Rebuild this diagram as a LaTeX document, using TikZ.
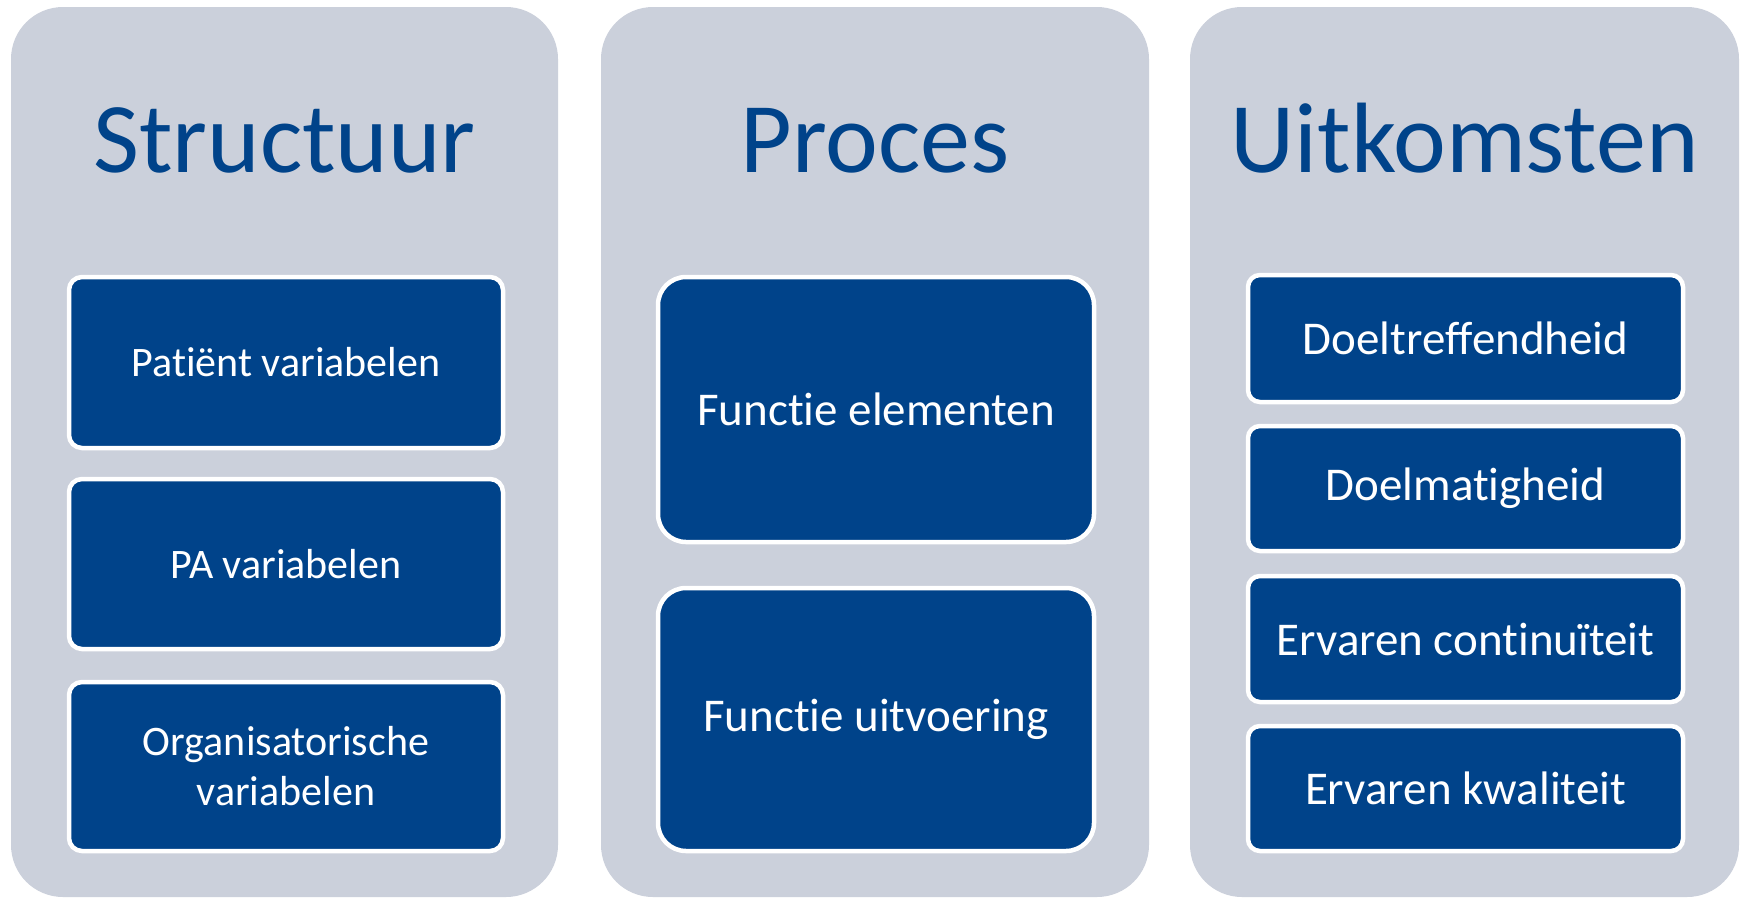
\documentclass[tikz,border=0pt]{standalone}
\usepackage{fontspec}
\setmainfont{Carlito}[Ligatures=NoCommon]
\definecolor{panelgray}{RGB}{203,208,219}
\definecolor{boxblue}{RGB}{0,67,138}
\begin{document}
\begin{tikzpicture}[x=1pt,y=-1pt,
  panel/.style={fill=panelgray,draw=none,rounded corners=52pt},
  ttl/.style={text=boxblue,font=\fontsize{100}{120}\selectfont,anchor=base,inner sep=0pt},
  itembox/.style={draw=white,line width=4.5pt,fill=boxblue,text=white,align=center,inner sep=0pt},
  smallt/.style={font=\fontsize{42}{50}\selectfont},
  bigt/.style={font=\fontsize{47}{56}\selectfont}]
\useasboundingbox (0,0) rectangle (1741,898);
% panels
\path[panel] (11,7) rectangle (558,897);
\path[panel] (601,7) rectangle (1149,897);
\path[panel] (1190,7) rectangle (1739,897);
% titles
\node[ttl] (t1) at (284.5,172) {Structuur};
\node[ttl] (t2) at (875,172) {Proces};
\node[ttl] (t3) at (1464.5,172) {Uitkomsten};
% panel 1 boxes
\node[itembox,smallt,rounded corners=13pt,minimum width=434pt,minimum height=171pt] (a1) at (286,362.5) {Patiënt variabelen};
\node[itembox,smallt,rounded corners=13pt,minimum width=434pt,minimum height=170pt] (a2) at (286,564) {PA variabelen};
\node[itembox,smallt,rounded corners=13pt,minimum width=434pt,minimum height=169pt] (a3) at (286,766.5) {Organisatorische\\variabelen};
% panel 2 boxes
\node[itembox,bigt,rounded corners=28pt,minimum width=436pt,minimum height=265pt] (b1) at (876,409.5) {Functie elementen};
\node[itembox,bigt,rounded corners=28pt,minimum width=436pt,minimum height=263pt] (b2) at (876,719.5) {Functie uitvoering};
% panel 3 boxes
\node[itembox,bigt,rounded corners=12pt,minimum width=435pt,minimum height=127pt] (c1) at (1465.5,338.5) {Doeltreffendheid};
\node[itembox,bigt,rounded corners=12pt,minimum width=435pt,minimum height=125pt] (c2) at (1465.5,488.5) {Doelmatigheid};
\node[itembox,bigt,rounded corners=12pt,minimum width=435pt,minimum height=126pt] (c3) at (1465.5,639) {Ervaren continuïteit};
\node[itembox,bigt,rounded corners=12pt,minimum width=435pt,minimum height=125pt] (c4) at (1465.5,788.5) {Ervaren kwaliteit};
\end{tikzpicture}
\end{document}
